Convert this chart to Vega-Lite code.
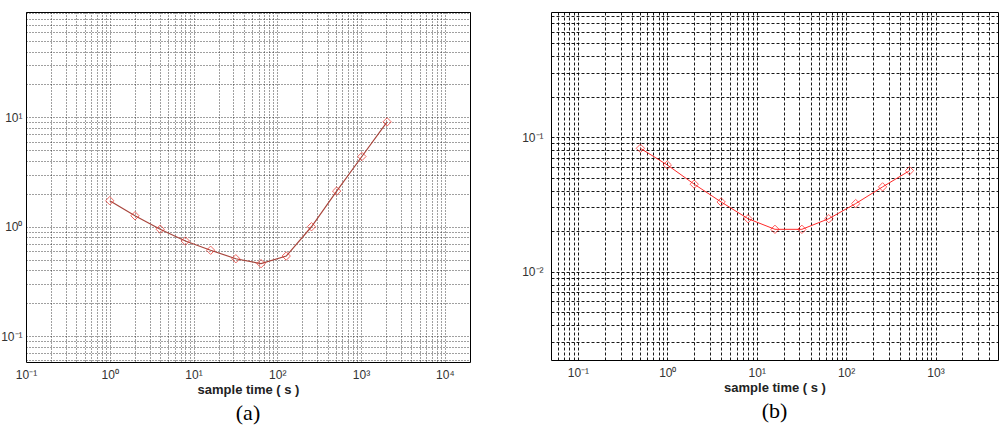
{
  "$schema": "https://vega.github.io/schema/vega-lite/v6.json",
  "padding": {"left": 0, "top": 6, "right": 0, "bottom": 0},
  "background": "white",
  "bounds": "flush",
  "spacing": 81,
  "config": {
    "view": {"stroke": "black", "strokeWidth": 1},
    "axis": {
      "labelFont": "Liberation Sans",
      "labelFontSize": 12,
      "labelColor": "#333333",
      "titleFont": "Liberation Sans",
      "titleFontSize": 13,
      "titleFontWeight": "bold",
      "titleColor": "#222222",
      "domain": false,
      "ticks": false,
      "tickSize": 0,
      "labelOverlap": false,
      "labelBound": false,
      "labelFlush": false,
      "gridColor": "black",
      "gridWidth": 1
    },
    "title": {"font": "Liberation Serif", "fontSize": 22, "fontWeight": "normal", "color": "black"}
  },
  "datasets": {
    "a": [
      {"t": 1, "v": 1.73}, {"t": 2, "v": 1.26}, {"t": 4, "v": 0.95}, {"t": 8, "v": 0.74},
      {"t": 16, "v": 0.61}, {"t": 32, "v": 0.51}, {"t": 64, "v": 0.46}, {"t": 128, "v": 0.54},
      {"t": 256, "v": 1.0}, {"t": 512, "v": 2.12}, {"t": 1024, "v": 4.39}, {"t": 2048, "v": 9.1}
    ],
    "b": [
      {"t": 0.5, "v": 0.0824}, {"t": 1, "v": 0.062}, {"t": 2, "v": 0.0446}, {"t": 4, "v": 0.0329},
      {"t": 8, "v": 0.0247}, {"t": 16, "v": 0.0206}, {"t": 32, "v": 0.0206}, {"t": 64, "v": 0.0247},
      {"t": 128, "v": 0.032}, {"t": 256, "v": 0.0426}, {"t": 512, "v": 0.0562}
    ]
  },
  "hconcat": [
    {
      "width": 444,
      "height": 350,
      "data": {"name": "a"},
      "title": {"text": "(a)", "orient": "bottom", "offset": 7},
      "encoding": {
        "x": {
          "field": "t", "type": "quantitative",
          "scale": {"type": "log", "domain": [0.1, 20000], "nice": false},
          "axis": {
            "title": "sample time ( s )",
            "titlePadding": 3,
            "labelPadding": 7,
            "gridDash": [1, 2],
            "gridOpacity": 0.75,
            "values": [0.1,0.2,0.3,0.4,0.5,0.6,0.7,0.8,0.9,1,2,3,4,5,6,7,8,9,10,20,30,40,50,60,70,80,90,100,200,300,400,500,600,700,800,900,1000,2000,3000,4000,5000,6000,7000,8000,9000,10000,20000],
            "labelExpr": "datum.value == 0.1 ? '10⁻¹' : datum.value == 1 ? '10⁰' : datum.value == 10 ? '10¹' : datum.value == 100 ? '10²' : datum.value == 1000 ? '10³' : datum.value == 10000 ? '10⁴' : ''"
          }
        },
        "y": {
          "field": "v", "type": "quantitative",
          "scale": {"type": "log", "domain": [0.058, 92], "nice": false},
          "axis": {
            "title": null,
            "labelPadding": 4,
            "gridDash": [1, 2],
            "gridOpacity": 0.75,
            "values": [0.06,0.07,0.08,0.09,0.1,0.2,0.3,0.4,0.5,0.6,0.7,0.8,0.9,1,2,3,4,5,6,7,8,9,10,20,30,40,50,60,70,80,90],
            "labelExpr": "datum.value == 0.1 ? '10⁻¹' : datum.value == 1 ? '10⁰' : datum.value == 10 ? '10¹' : ''"
          }
        }
      },
      "layer": [
        {"mark": {"type": "line", "color": "#a8453c", "strokeWidth": 1.2}},
        {"mark": {"type": "point", "shape": "diamond", "filled": false, "color": "#e82a22", "size": 70, "strokeWidth": 1}}
      ]
    },
    {
      "width": 447,
      "height": 348,
      "data": {"name": "b"},
      "title": {"text": "(b)", "orient": "bottom", "offset": 7},
      "encoding": {
        "x": {
          "field": "t", "type": "quantitative",
          "scale": {"type": "log", "domain": [0.05, 5000], "nice": false},
          "axis": {
            "title": "sample time ( s )",
            "titlePadding": 3,
            "labelPadding": 7,
            "gridDash": [3, 2],
            "gridOpacity": 0.9,
            "values": [0.06,0.07,0.08,0.09,0.1,0.2,0.3,0.4,0.5,0.6,0.7,0.8,0.9,1,2,3,4,5,6,7,8,9,10,20,30,40,50,60,70,80,90,100,200,300,400,500,600,700,800,900,1000,2000,3000,4000],
            "labelExpr": "datum.value == 0.1 ? '10⁻¹' : datum.value == 1 ? '10⁰' : datum.value == 10 ? '10¹' : datum.value == 100 ? '10²' : datum.value == 1000 ? '10³' : ''"
          }
        },
        "y": {
          "field": "v", "type": "quantitative",
          "scale": {"type": "log", "domain": [0.0022, 0.85], "nice": false},
          "axis": {
            "title": null,
            "labelPadding": 8,
            "gridDash": [3, 2],
            "gridOpacity": 0.9,
            "values": [0.003,0.004,0.005,0.006,0.007,0.008,0.009,0.01,0.02,0.03,0.04,0.05,0.06,0.07,0.08,0.09,0.1,0.2,0.3,0.4,0.5,0.6,0.7,0.8],
            "labelExpr": "datum.value == 0.01 ? '10⁻²' : datum.value == 0.1 ? '10⁻¹' : ''"
          }
        }
      },
      "layer": [
        {"mark": {"type": "line", "color": "#ff2a2a", "strokeWidth": 1}},
        {"mark": {"type": "point", "shape": "diamond", "filled": false, "color": "#ff1a1a", "size": 70, "strokeWidth": 1}}
      ]
    }
  ]
}
